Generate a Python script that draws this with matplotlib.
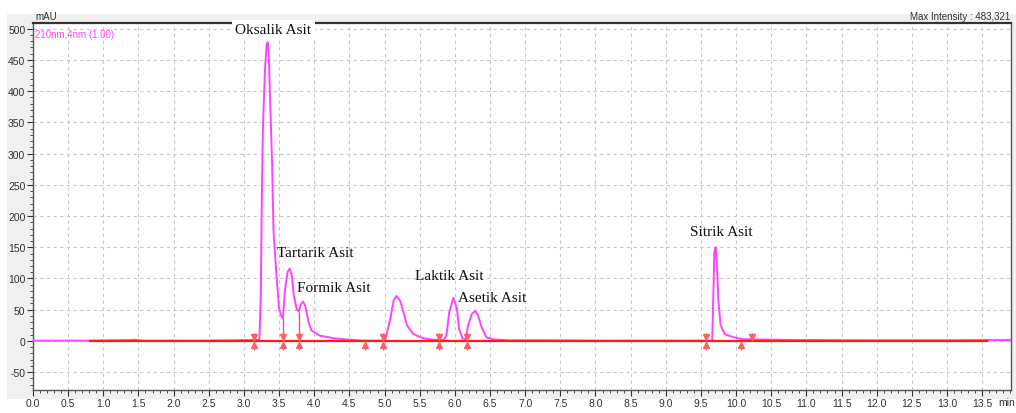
import matplotlib
matplotlib.use("Agg")
import matplotlib.pyplot as plt
from matplotlib.patches import Rectangle
from matplotlib.ticker import MultipleLocator, FormatStrFormatter

# ============================
# DATOS (leidos del cromatograma)
# ============================
tiempo = [0.00, 0.80, 1.40, 1.45, 1.55, 2.40, 2.80, 3.00, 3.15, 3.20,
          3.22, 3.24, 3.255, 3.27, 3.30, 3.325, 3.34, 3.357, 3.37, 3.40,
          3.42, 3.44, 3.47, 3.50, 3.54, 3.555, 3.585, 3.62, 3.65, 3.68,
          3.71, 3.75, 3.78, 3.81, 3.84, 3.87, 3.92, 3.96, 4.08, 4.30,
          4.50, 4.70, 4.98, 5.01, 5.08, 5.13, 5.17, 5.22, 5.27, 5.32,
          5.41, 5.55, 5.70, 5.84, 5.88, 5.92, 5.98, 6.03, 6.06, 6.11,
          6.15, 6.19, 6.24, 6.29, 6.33, 6.38, 6.45, 6.55, 6.78, 7.40,
          8.00, 8.50, 9.20, 9.55, 9.66, 9.68, 9.69, 9.71, 9.73, 9.75,
          9.78, 9.84, 9.96, 10.08, 10.25, 10.60, 10.75, 11.20, 11.60, 12.30,
          12.90, 13.60, 13.90]
senal = [0.5, 0.5, 1.5, 2.0, 0.5, 0.5, 1.0, 1.5, 1.5, 2.0,
         3.0, 73, 233, 340, 436, 476, 478, 447, 393, 286,
         179, 142, 94, 51, 38, 37, 83, 110, 116, 105,
         73, 51, 47, 59, 63, 57, 30, 17, 8.5, 4.0,
         2.0, 0.5, 0.5, 1.0, 35, 65, 72, 65, 46, 25,
         11, 4.3, 2.0, 1.6, 8.5, 46, 69, 51, 19, 4.0,
         3.0, 25, 43, 48, 41, 22, 6.0, 2.5, 1.0, 1.0,
         0.5, 0.5, 0.5, 0.5, 0.5, 89, 142, 150, 115, 62,
         25, 11, 6.0, 3.0, 2.5, 2.0, 1.5, 1.5, 1.0, 1.0,
         1.0, 1.5, 1.5]

# linea base (rojo) y marcas de integracion
base_t = [0.81, 13.57]
base_y = [0.0, 0.0]
corte_t = [3.555, 3.78]
corte_y = [37, 47]
evento_t = [3.15, 3.56, 3.78, 4.72, 4.98, 5.78, 6.17, 9.57, 10.07, 10.23]
evento_tipo = ["ambos", "ambos", "ambos", "sube", "ambos", "ambos", "ambos",
               "ambos", "sube", "baja"]

# etiquetas de picos
picos_txt = ["Oksalik Asit", "Tartarik Asit", "Formik Asit",
             "Laktik Asit", "Asetik Asit", "Sitrik Asit"]
picos_t = [3.42, 3.47, 3.755, 5.43, 6.05, 9.35]
picos_y = [498, 141, 86, 104, 69, 175]
picos_ha = ["center", "left", "left", "left", "left", "left"]

x_max = 13.91
y_min, y_max = -78.5, 509

# ============================
# FIGURA
# ============================
fig = plt.figure(figsize=(10.16, 4.14), dpi=100, facecolor="white")
fondo = Rectangle((7 / 1016, 1 - 400 / 414), 1 - 7 / 1016, 385 / 414,
                  transform=fig.transFigure, facecolor="#f0f0f0",
                  edgecolor="none", zorder=-10)
fig.add_artist(fondo)
ax = fig.add_axes([33 / 1016, 1 - 391 / 414, 978 / 1016, 367 / 414])
ax.set_zorder(1)
ax.set_facecolor("white")

ax.set_xlim(0, x_max)
ax.set_ylim(y_min, y_max)

ax.xaxis.set_major_locator(MultipleLocator(0.5))
ax.xaxis.set_minor_locator(MultipleLocator(0.1))
ax.yaxis.set_major_locator(MultipleLocator(50))
ax.yaxis.set_minor_locator(MultipleLocator(10))
ax.xaxis.set_major_formatter(FormatStrFormatter("%.1f"))
ax.yaxis.set_major_formatter(FormatStrFormatter("%d"))

fuente_ticks = ["Liberation Sans Narrow", "Liberation Sans", "DejaVu Sans"]
ax.tick_params(which="major", direction="out", length=4, width=0.8,
               colors="#333333", labelsize=7.5, pad=1.5)
ax.tick_params(which="minor", direction="out", length=2, width=0.6, colors="#333333")
for lbl in ax.get_xticklabels() + ax.get_yticklabels():
    lbl.set_family(fuente_ticks)

ax.grid(True, which="major", color="#c8c8c8", linestyle=(0, (3, 3)), linewidth=0.8)
ax.set_axisbelow(True)

for lado in ["left", "bottom", "right"]:
    ax.spines[lado].set_color("#555555")
    ax.spines[lado].set_linewidth(1.0)
ax.spines["top"].set_color("#333333")
ax.spines["top"].set_linewidth(1.6)

# cromatograma
ax.plot(tiempo, senal, color="#ff44ff", linewidth=1.4, zorder=3)
# linea base
ax.plot(base_t, base_y, color="#ff1a1a", linewidth=1.6, zorder=4)
# lineas de corte entre picos
ax.vlines(corte_t, 0, corte_y, color="#ff5050", linewidth=1.0, zorder=4)

# marcas de integracion
for t, tipo in zip(evento_t, evento_tipo):
    if tipo in ("ambos", "baja"):
        ax.plot([t], [6], marker="v", markersize=4, color="#ff6060", zorder=5)
        ax.vlines(t, 0, 12, color="#ff6060", linewidth=0.8, zorder=5)
    if tipo in ("ambos", "sube"):
        ax.plot([t], [-7], marker="^", markersize=4, color="#ff6060", zorder=5)
        ax.vlines(t, -14, 0, color="#ff6060", linewidth=0.8, zorder=5)

# etiquetas de picos
for txt, t, y, ha in zip(picos_txt, picos_t, picos_y, picos_ha):
    kw = {}
    if txt == "Oksalik Asit":
        kw["bbox"] = dict(facecolor="white", edgecolor="none", pad=2.5)
    ax.text(t, y, txt, ha=ha, va="center", fontsize=11,
            family=["Liberation Serif", "DejaVu Serif"], color="#111111",
            zorder=6, **kw)

# textos del equipo
ax.text(0.002, 0.985, "210nm,4nm (1.00)", transform=ax.transAxes, ha="left",
        va="top", fontsize=7, color="#ff44ff", family=fuente_ticks)
fig.text(35 / 1016, 1 - 17 / 414, "mAU", ha="left", va="center", fontsize=7,
         color="#333333", family=fuente_ticks)
fig.text(1010 / 1016, 1 - 17 / 414, "Max Intensity : 483,321", ha="right",
         va="center", fontsize=7, color="#333333", family=fuente_ticks)
fig.text(1015 / 1016, 1 - 403 / 414, "min", ha="right", va="center",
         fontsize=7.5, color="#333333", family=fuente_ticks)

fig.savefig("out.png", dpi=100)
